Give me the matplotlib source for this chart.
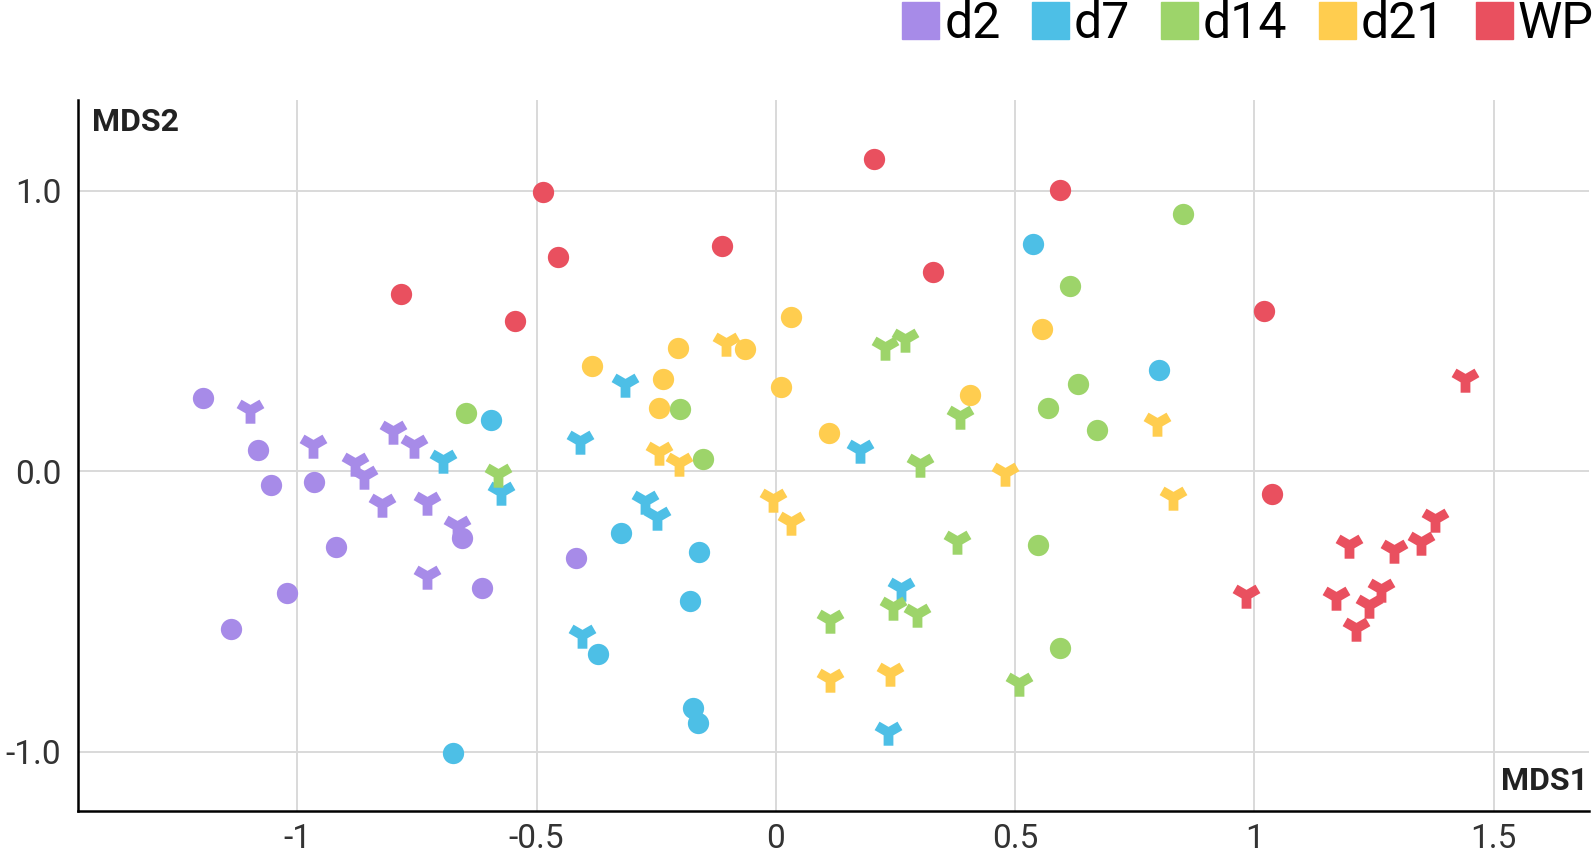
import numpy as np
import matplotlib
matplotlib.use('Agg')
import matplotlib.pyplot as plt
from matplotlib.path import Path
from matplotlib.patches import Patch

plt.rcParams['font.family'] = ['Roboto', 'DejaVu Sans']

groups = ['d2', 'd7', 'd14', 'd21', 'WP']
colors = ['#a78be8', '#4dbfe6', '#9dd46a', '#ffcd4f', '#e9505f']

# (MDS1, MDS2); dots = circles, forks = Y markers
d2_dots = [(-1.196, 0.261), (-1.083, 0.076), (-1.055, -0.051), (-0.966, -0.040),
           (-0.919, -0.272), (-1.021, -0.436), (-1.138, -0.563), (-0.655, -0.240),
           (-0.613, -0.417), (-0.417, -0.309)]
d2_forks = [(-1.098, 0.218), (-0.968, 0.094), (-0.800, 0.142), (-0.757, 0.094),
            (-0.879, 0.029), (-0.860, -0.018), (-0.823, -0.116), (-0.728, -0.109),
            (-0.666, -0.196), (-0.728, -0.374)]

d7_dots = [(-0.596, 0.181), (-0.323, -0.221), (-0.160, -0.287), (-0.179, -0.465),
           (-0.372, -0.653), (-0.174, -0.846), (-0.162, -0.897), (-0.674, -1.005),
           (0.538, 0.809), (0.800, 0.359)]
d7_forks = [(-0.696, 0.040), (-0.574, -0.073), (-0.315, 0.309), (-0.409, 0.109),
            (-0.274, -0.105), (-0.249, -0.163), (-0.404, -0.584), (0.177, 0.076),
            (0.262, -0.417), (0.234, -0.929)]

d14_dots = [(-0.647, 0.207), (-0.200, 0.221), (-0.153, 0.044), (0.851, 0.918),
            (0.615, 0.661), (0.632, 0.312), (0.568, 0.225), (0.672, 0.145),
            (0.549, -0.265), (0.594, -0.632)]
d14_forks = [(-0.581, -0.011), (0.228, 0.443), (0.270, 0.472), (0.385, 0.196),
             (0.302, 0.025), (0.379, -0.250), (0.113, -0.530), (0.245, -0.483),
             (0.296, -0.508), (0.509, -0.755)]

d21_dots = [(-0.383, 0.374), (-0.204, 0.439), (-0.236, 0.330), (-0.245, 0.225),
            (-0.064, 0.436), (0.032, 0.548), (0.011, 0.301), (0.111, 0.134),
            (0.406, 0.272), (0.557, 0.505)]
d21_forks = [(-0.104, 0.457), (-0.243, 0.069), (-0.202, 0.029), (-0.006, -0.098),
             (0.032, -0.181), (0.479, -0.007), (0.796, 0.171), (0.830, -0.091),
             (0.113, -0.740), (0.238, -0.719)]

wp_dots = [(-0.783, 0.632), (-0.487, 0.995), (-0.455, 0.762), (-0.545, 0.534),
           (-0.113, 0.802), (0.206, 1.111), (0.328, 0.711), (0.594, 1.002),
           (1.021, 0.570), (1.038, -0.083)]
wp_forks = [(1.440, 0.330), (1.377, -0.171), (1.349, -0.254), (1.291, -0.283),
            (1.198, -0.265), (0.983, -0.443), (1.170, -0.450), (1.264, -0.421),
            (1.240, -0.479), (1.213, -0.559)]

all_dots = [d2_dots, d7_dots, d14_dots, d21_dots, wp_dots]
all_forks = [d2_forks, d7_forks, d14_forks, d21_forks, wp_forks]

xticks = [-1, -0.5, 0, 0.5, 1, 1.5]
xlabels = ['-1', '-0.5', '0', '0.5', '1', '1.5']
yticks = [-1.0, 0.0, 1.0]
ylabels = ['-1.0', '0.0', '1.0']


def fork_marker(h=0.37):
    # thick three-armed "Y": stem down, arms up-left / up-right
    r = h / np.sin(np.pi / 3)
    verts = []
    inner = [210, -30, 90]
    arms = [-90, 30, 150]
    for b, a in zip(inner, arms):
        bb = np.deg2rad(b)
        verts.append((r * np.cos(bb), r * np.sin(bb)))
        ar = np.deg2rad(a)
        tx, ty = np.cos(ar), np.sin(ar)
        verts.append((tx + h * np.sin(ar), ty - h * np.cos(ar)))
        verts.append((tx - h * np.sin(ar), ty + h * np.cos(ar)))
    verts.append(verts[0])
    codes = [Path.MOVETO] + [Path.LINETO] * (len(verts) - 2) + [Path.CLOSEPOLY]
    return Path(verts, codes)


fork = fork_marker()

fig = plt.figure(figsize=(15.94, 8.6), dpi=100)
ax = fig.add_axes([0.049, 0.057, 0.948, 0.827])

for c, dots, forks in zip(colors, all_dots, all_forks):
    dx, dy = zip(*dots)
    fx, fy = zip(*forks)
    ax.scatter(dx, dy, s=235, marker='o', color=c, linewidths=0, zorder=3)
    ax.scatter(fx, fy, s=400, marker=fork, color=c, linewidths=0, zorder=3)

ax.set_xlim(-1.458, 1.700)
ax.set_ylim(-1.212, 1.324)
ax.set_xticks(xticks)
ax.set_xticklabels(xlabels)
ax.set_yticks(yticks)
ax.set_yticklabels(ylabels)
ax.grid(True, color='#d9d9d9', lw=1.4)
ax.set_axisbelow(True)
for s in ['top', 'right']:
    ax.spines[s].set_visible(False)
for s in ['left', 'bottom']:
    ax.spines[s].set_linewidth(1.8)
    ax.spines[s].set_color('black')
ax.tick_params(axis='both', length=0, colors='#333333')
ax.tick_params(axis='x', pad=9, labelsize=24)
ax.tick_params(axis='y', pad=12, labelsize=24)

ax.text(0.009, 0.99, 'MDS2', transform=ax.transAxes, fontsize=23,
        fontweight='bold', color='#222222', ha='left', va='top')
ax.text(0.999, 0.042, 'MDS1', transform=ax.transAxes, fontsize=23,
        fontweight='bold', color='#222222', ha='right', va='center')

handles = [Patch(color=c) for c in colors]
fig.legend(handles, groups, loc='upper right', bbox_to_anchor=(1.0, 1.0),
           ncol=5, frameon=False, fontsize=36, handlelength=0.74,
           handleheight=0.74, handletextpad=0.1, columnspacing=0.62,
           borderpad=0.0, borderaxespad=0.0)

fig.savefig('out.png', dpi=100)
